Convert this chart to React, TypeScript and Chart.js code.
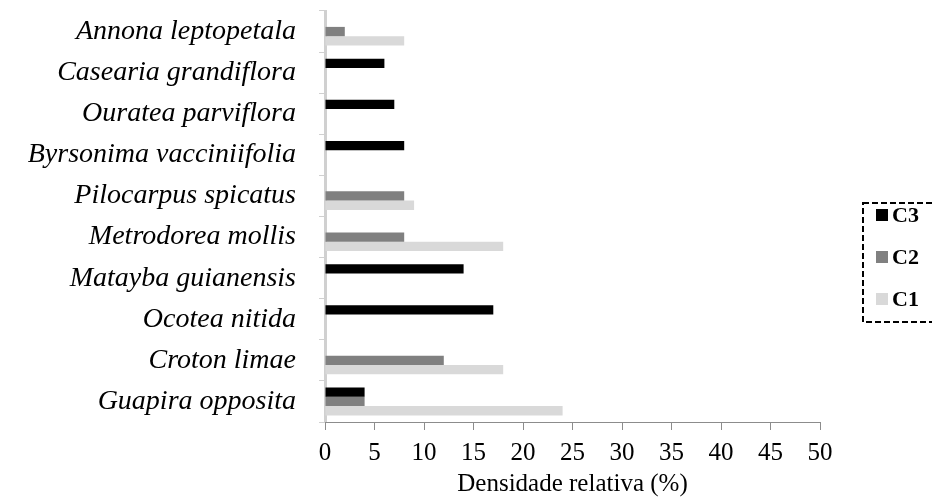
import React, { useEffect, useRef } from "react";
import { Chart, registerables } from "chart.js";

Chart.register(...registerables);

const categories = [
  "Annona leptopetala",
  "Casearia grandiflora",
  "Ouratea parviflora",
  "Byrsonima vacciniifolia",
  "Pilocarpus spicatus",
  "Metrodorea mollis",
  "Matayba guianensis",
  "Ocotea nitida",
  "Croton limae",
  "Guapira opposita",
];

const seriesNames = ["C3", "C2", "C1"];
const c3Values = [0, 6, 7, 8, 0, 0, 14, 17, 0, 4];
const c2Values = [2, 0, 0, 0, 8, 8, 0, 0, 12, 4];
const c1Values = [8, 0, 0, 0, 9, 18, 0, 0, 18, 24];
const seriesColors = ["#000000", "#808080", "#d9d9d9"];
const xTicks = [0, 5, 10, 15, 20, 25, 30, 35, 40, 45, 50];

const SERIF = "'Liberation Serif', 'Times New Roman', serif";

const legendPlugin = {
  id: "dashedLegend",
  afterDraw(chart: any) {
    const ctx = chart.ctx;
    const area = chart.chartArea;
    const boxLeft = area.right + 43;
    const boxTop = 203;
    const boxW = 80;
    const boxH = 119;
    ctx.save();
    ctx.setLineDash([6, 3]);
    ctx.lineWidth = 2;
    ctx.strokeStyle = "#000";
    ctx.strokeRect(boxLeft, boxTop, boxW, boxH);
    ctx.setLineDash([]);
    const items = chart.data.datasets;
    ctx.font = `bold 22px ${SERIF}`;
    ctx.textBaseline = "middle";
    ctx.textAlign = "left";
    items.forEach((ds: any, i: number) => {
      const cy = boxTop + 12 + i * 42;
      ctx.fillStyle = ds.backgroundColor;
      ctx.fillRect(boxLeft + 13, cy - 6, 12, 12);
      ctx.fillStyle = "#000";
      ctx.fillText(ds.label, boxLeft + 29, cy + 1);
    });
    ctx.restore();
  },
};

export default function App() {
  const ref = useRef<HTMLCanvasElement | null>(null);
  useEffect(() => {
    document.body.style.margin = "0";
    const canvas = ref.current!;
    const values = [c3Values, c2Values, c1Values];
    const chart = new Chart(canvas, {
      type: "bar",
      data: {
        labels: categories,
        datasets: seriesNames.map((name, i) => ({
          label: name,
          data: values[i],
          backgroundColor: seriesColors[i],
          borderWidth: 0,
          categoryPercentage: 0.68,
          barPercentage: 1,
        })),
      },
      options: {
        indexAxis: "y",
        animation: false,
        responsive: false,
        maintainAspectRatio: false,
        layout: { padding: { top: 11, right: 112, left: 0, bottom: 0 } },
        plugins: {
          legend: { display: false },
          tooltip: { enabled: false },
        },
        scales: {
          y: {
            afterFit(scale: any) {
              scale.width = 325;
              scale.paddingTop = 0;
              scale.paddingBottom = 0;
            },
            grid: {
              offset: true,
              drawOnChartArea: false,
              tickLength: 6,
              color: "#d0d0d0",
              lineWidth: 1,
            },
            border: { color: "#d0d0d0", width: 3 },
            ticks: {
              color: "#000",
              padding: 23,
              font: { family: SERIF, size: 28, style: "italic" },
            },
          },
          x: {
            min: 0,
            max: 50,
            afterBuildTicks(scale: any) {
              scale.ticks = xTicks.map((v) => ({ value: v }));
            },
            afterFit(scale: any) {
              scale.height = 77;
            },
            grid: {
              drawOnChartArea: false,
              tickLength: 8,
              color: "#8c8c8c",
              lineWidth: 1,
            },
            border: { color: "#8c8c8c", width: 1 },
            ticks: {
              color: "#000",
              padding: 8,
              font: { family: SERIF, size: 25 },
            },
            title: {
              display: true,
              text: "Densidade relativa (%)",
              color: "#000",
              font: { family: SERIF, size: 25 },
              padding: { top: 0, bottom: 0 },
            },
          },
        },
      },
      plugins: [legendPlugin],
    });
    return () => chart.destroy();
  }, []);
  return <canvas ref={ref} width={932} height={499} style={{ display: "block" }} />;
}
